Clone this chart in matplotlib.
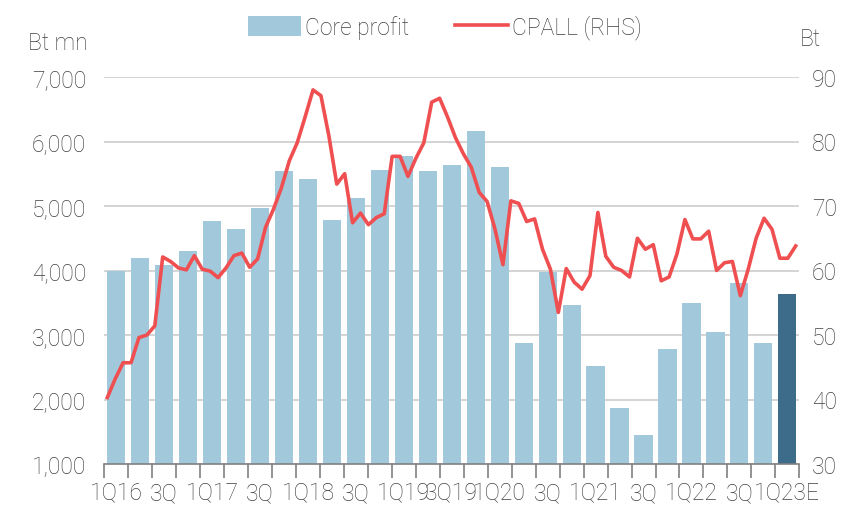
import matplotlib
matplotlib.use("Agg")
import matplotlib.pyplot as plt
import numpy as np

plt.rcParams['font.family'] = ['Roboto', 'DejaVu Sans']
plt.rcParams['font.weight'] = 'light'

# quarterly core profit (Bt mn), 1Q16 .. 1Q23E
quarters = ['1Q16', '2Q16', '3Q16', '4Q16', '1Q17', '2Q17', '3Q17', '4Q17',
            '1Q18', '2Q18', '3Q18', '4Q18', '1Q19', '2Q19', '3Q19', '4Q19',
            '1Q20', '2Q20', '3Q20', '4Q20', '1Q21', '2Q21', '3Q21', '4Q21',
            '1Q22', '2Q22', '3Q22', '4Q22', '1Q23E']
core_profit = [4000, 4190, 4090, 4305, 4765, 4645, 4965, 5540,
               5420, 4785, 5130, 5560, 5775, 5540, 5640, 6165,
               5600, 2870, 3970, 3470, 2515, 1875, 1450, 2790,
               3490, 3050, 3810, 2880, 3630]
xlabels = ['1Q16', '', '3Q', '', '1Q17', '', '3Q', '', '1Q18', '', '3Q', '',
           '1Q19', '', '3Q19', '', '1Q20', '', '3Q', '', '1Q21', '', '3Q', '',
           '1Q22', '', '3Q', '', '1Q23E']

# monthly CPALL share price (Bt), Jan-16 .. Apr-23
cpall = [40.3, 43.2, 45.7, 45.7, 49.6, 50.0, 51.4, 62.1, 61.4, 60.4, 60.1, 62.3,
         60.2, 59.9, 58.9, 60.4, 62.3, 62.7, 60.5, 61.8, 66.7, 69.5, 72.8, 77.0,
         79.8, 83.8, 88.0, 87.1, 80.9, 73.4, 75.0, 67.4, 68.9, 67.1, 68.2, 68.8,
         77.7, 77.7, 74.6, 77.4, 79.8, 86.1, 86.7, 83.8, 80.6, 78.1, 76.0, 72.1,
         70.7, 66.4, 60.9, 70.8, 70.4, 67.6, 68.0, 63.3, 60.2, 53.5, 60.3, 58.2,
         57.1, 59.2, 69.0, 62.2, 60.5, 60.0, 59.0, 65.0, 63.3, 64.0, 58.4, 59.0,
         62.6, 67.9, 64.9, 64.9, 66.1, 60.0, 61.2, 61.4, 56.1, 60.2, 65.0, 68.1,
         66.4, 61.9, 61.9, 63.8]

text_col = '#404040'
bar_col = '#a2c8dc'
last_col = '#3d6b8a'
line_col = '#ef4f50'

fig = plt.figure(figsize=(8.62, 5.06), dpi=100)
ax = fig.add_axes([104.3 / 862, 1 - 465 / 506, 695 / 862, 387 / 506])

x = np.arange(len(quarters))
colors = [bar_col] * (len(quarters) - 1) + [last_col]
bars = ax.bar(x, core_profit, width=0.76, color=colors, zorder=2)

ax.set_xlim(-0.5, len(quarters) - 0.5)
ax.set_ylim(1000, 7000)
ax.set_yticks(range(1000, 7001, 1000))
ax.set_yticklabels([f'{v:,}' for v in range(1000, 7001, 1000)])
ax.grid(axis='y', color='#d4d4d4', linewidth=1.4, zorder=0)
ax.set_axisbelow(True)

# boundary ticks, labels at bar centres
ax.set_xticks(np.arange(-0.5, len(quarters), 1.0))
ax.set_xticklabels([])
ax.set_xticks(x, minor=True)
ax.set_xticklabels(xlabels, minor=True)
ax.tick_params(axis='x', which='major', length=10, width=1.2, color='#808080')
ax.tick_params(axis='x', which='minor', length=0, pad=12, labelsize=16.5, labelcolor=text_col)
ax.tick_params(axis='y', length=0, pad=13, labelsize=16.5, labelcolor=text_col)

for s in ['top', 'left', 'right']:
    ax.spines[s].set_visible(False)
ax.spines['bottom'].set_color('#808080')
ax.spines['bottom'].set_linewidth(1.2)

ax2 = ax.twinx()
xl = np.linspace(-0.375, 28.35, len(cpall))
line, = ax2.plot(xl, cpall, color=line_col, linewidth=2.6, zorder=3)
ax2.set_ylim(30, 90)
ax2.set_yticks(range(30, 91, 10))
ax2.tick_params(axis='y', length=0, pad=9, labelsize=16.5, labelcolor=text_col)
for s in ['top', 'left', 'right', 'bottom']:
    ax2.spines[s].set_visible(False)

fig.text(88 / 862, 1 - 44 / 506, 'Bt mn', ha='right', va='center', fontsize=16.5, color=text_col)
fig.text(800 / 862, 1 - 40 / 506, 'Bt', ha='left', va='center', fontsize=16.5, color=text_col)

fig.legend([bars, line], ['Core profit', 'CPALL (RHS)'], loc='center',
           bbox_to_anchor=(445 / 862, 1 - 28 / 506), ncol=2, frameon=False,
           fontsize=16.5, labelcolor=text_col, handlelength=2.3, handleheight=1.0,
           handletextpad=0.2, columnspacing=2.0)

fig.savefig('out.png', dpi=100)
